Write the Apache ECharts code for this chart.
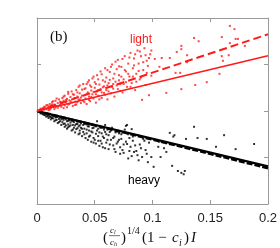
<!DOCTYPE html>
<html><head><meta charset="utf-8">
<script src="https://cdn.jsdelivr.net/npm/echarts@6/dist/echarts.min.js"></script>
<style>html,body{margin:0;padding:0;background:#fff}#c{width:280px;height:248px}</style>
</head><body><div id="c"></div>
<script>
var xTicks = [0, 0.05, 0.1, 0.15, 0.2];
var lineX = [0, 0.2];
var lightFit = [0, 1.19];
var lightDashed = [0, 1.65];
var heavyFit = [0, -1.19];
var heavyDashed = [0, -1.23];

var lightPoints = [
[0.002,0.02],[0.003,0.05],[0.004,0.01],[0.005,0.06],[0.006,0.03],[0.007,0.08],[0.008,0.04],[0.008,0.12],[0.009,0.07],[0.010,0.02],[0.010,0.10],[0.011,0.15],[0.012,0.06],[0.012,0.11],[0.013,0.19],[0.014,0.09],[0.015,0.04],[0.015,0.14],[0.016,0.22],[0.017,0.11],[0.018,0.17],[0.018,0.07],[0.019,0.25],[0.020,0.13],[0.020,0.20],
[0.021,0.09],[0.022,0.28],[0.022,0.16],[0.023,0.22],[0.024,0.12],[0.024,0.33],[0.025,0.19],[0.026,0.26],[0.026,0.08],[0.027,0.37],[0.028,0.15],[0.028,0.23],[0.029,0.30],[0.030,0.18],[0.030,0.42],[0.031,0.11],[0.032,0.27],[0.032,0.35],[0.033,0.20],[0.034,0.45],[0.034,0.14],[0.035,0.31],[0.036,0.24],[0.036,0.52],[0.037,0.38],[0.038,0.17],[0.038,0.29],[0.039,0.46],[0.040,0.22],[0.040,0.58],
[0.041,0.34],[0.042,0.27],[0.042,0.49],[0.043,0.15],[0.044,0.40],[0.044,0.62],[0.045,0.31],[0.046,0.55],[0.046,0.21],[0.047,0.44],[0.048,0.36],[0.048,0.70],[0.049,0.27],[0.050,0.50],[0.050,0.62],[0.051,0.18],[0.052,0.42],[0.052,0.77],[0.053,0.33],[0.054,0.57],[0.055,0.47],[0.055,0.85],[0.056,0.28],[0.057,0.66],[0.058,0.39],[0.058,0.53],[0.059,0.92],[0.060,0.45],[0.060,0.72],
[0.061,0.25],[0.062,0.60],[0.063,0.84],[0.064,0.38],[0.065,0.52],[0.065,1.00],[0.066,0.70],[0.067,0.31],[0.068,0.63],[0.069,0.90],[0.070,0.47],[0.070,1.10],[0.071,0.77],[0.072,0.58],[0.073,0.95],[0.074,0.40],[0.075,0.68],[0.076,1.18],[0.077,0.85],[0.078,0.52],[0.079,1.02],[0.080,0.74],
[0.081,1.25],[0.082,0.60],[0.083,0.92],[0.084,1.13],[0.085,0.45],[0.086,0.80],[0.087,1.30],[0.088,1.02],[0.089,0.68],[0.090,1.18],[0.091,0.24],[0.092,0.88],[0.093,1.35],[0.094,0.56],[0.095,1.08],[0.096,0.97],[0.097,0.34],[0.098,1.22],[0.099,0.76],
[0.102,1.12],[0.106,0.95],[0.108,1.14],[0.112,0.39],[0.115,1.14],[0.120,0.82],[0.121,1.27],[0.124,0.82],[0.125,1.40],[0.125,1.33],[0.125,0.47],[0.130,1.20],[0.130,1.05],[0.136,1.57],[0.137,0.56],[0.140,1.50],[0.147,0.62],[0.158,0.80],[0.160,1.59],[0.160,1.18],[0.161,1.08],[0.166,1.20],[0.167,1.83],[0.167,1.46],[0.171,1.76],[0.172,1.55],[0.174,1.55],[0.180,1.40],
[0.004,0.04],[0.006,0.09],[0.009,0.13],[0.011,0.03],[0.013,0.14],[0.014,0.21],[0.016,0.08],[0.017,0.27],[0.019,0.11],[0.021,0.19],[0.023,0.31],[0.023,0.06],[0.025,0.24],[0.027,0.14],[0.027,0.41],[0.029,0.21],[0.031,0.36],[0.033,0.28],[0.033,0.13],[0.035,0.40],[0.035,0.19],[0.037,0.25],[0.037,0.55],[0.039,0.33],[0.041,0.47],[0.041,0.19],[0.043,0.37],[0.043,0.58],[0.045,0.24],[0.045,0.66],[0.047,0.30],[0.047,0.52],[0.049,0.41],[0.049,0.74],[0.051,0.36],[0.051,0.58],[0.053,0.45],[0.053,0.68],[0.054,0.25],[0.056,0.40],[0.056,0.79],[0.057,0.51],[0.059,0.63],[0.059,0.35],[0.061,0.55],[0.061,0.88],[0.062,0.42],[0.063,0.67],[0.064,0.95],[0.066,0.48],[0.066,0.58],[0.067,0.80],[0.068,1.06],[0.069,0.55],[0.071,0.66],[0.071,0.96],[0.072,0.43],[0.073,0.74],[0.074,1.12],[0.075,0.58],[0.076,0.88],[0.077,0.62],[0.079,0.80],[0.080,1.15],[0.081,0.52],[0.083,0.74],[0.084,0.98],[0.085,1.22],[0.086,0.63],[0.088,0.86],[0.089,1.28],[0.090,0.72],[0.092,1.05],[0.094,1.20],[0.095,0.82],[0.097,1.14],[0.099,1.30]
];

var heavyPoints = [
[0.002,-0.02],[0.003,-0.05],[0.004,-0.02],[0.005,-0.07],[0.006,-0.04],[0.007,-0.09],[0.008,-0.05],[0.008,-0.12],[0.009,-0.07],[0.010,-0.10],[0.010,-0.15],[0.011,-0.06],[0.012,-0.13],[0.012,-0.18],[0.013,-0.09],[0.014,-0.16],[0.015,-0.11],[0.015,-0.22],[0.016,-0.14],[0.017,-0.19],[0.018,-0.12],[0.018,-0.26],[0.019,-0.17],[0.020,-0.14],[0.020,-0.22],
[0.021,-0.30],[0.022,-0.16],[0.022,-0.24],[0.023,-0.19],[0.024,-0.34],[0.024,-0.27],[0.025,-0.18],[0.026,-0.22],[0.026,-0.38],[0.027,-0.29],[0.028,-0.20],[0.028,-0.33],[0.029,-0.25],[0.030,-0.42],[0.030,-0.21],[0.031,-0.30],[0.032,-0.36],[0.032,-0.24],[0.033,-0.46],[0.034,-0.28],[0.034,-0.39],[0.035,-0.23],[0.036,-0.33],[0.036,-0.50],[0.037,-0.42],[0.038,-0.27],[0.038,-0.36],[0.039,-0.54],[0.040,-0.30],[0.040,-0.45],
[0.041,-0.38],[0.042,-0.58],[0.042,-0.27],[0.043,-0.48],[0.044,-0.33],[0.044,-0.62],[0.045,-0.42],[0.046,-0.28],[0.046,-0.53],[0.047,-0.66],[0.048,-0.37],[0.048,-0.46],[0.049,-0.58],[0.050,-0.31],[0.050,-0.62],[0.051,-0.70],[0.052,-0.42],[0.052,-0.22],[0.053,-0.54],[0.054,-0.75],[0.055,-0.36],[0.055,-0.64],[0.056,-0.48],[0.057,-0.78],[0.058,-0.40],[0.058,-0.58],[0.059,-0.30],[0.060,-0.68],[0.060,-0.50],
[0.062,-0.82],[0.063,-0.45],[0.064,-0.62],[0.065,-0.36],[0.066,-0.74],[0.067,-0.55],[0.068,-0.88],[0.069,-0.44],[0.070,-0.66],[0.071,-0.62],[0.072,-0.92],[0.073,-0.50],[0.074,-0.84],[0.075,-0.72],[0.076,-0.40],[0.077,-0.32],[0.078,-0.71],[0.078,-0.30],[0.079,-1.02],[0.080,-0.58],[0.081,-0.77],[0.082,-0.39],[0.082,-0.97],[0.083,-0.64],[0.084,-0.88],[0.086,-0.86],[0.087,-0.52],[0.088,-1.06],[0.089,-0.72],[0.091,-0.99],[0.092,-0.60],[0.094,-0.84],[0.096,-1.10],[0.097,-0.68],[0.099,-0.99],
[0.101,-1.20],[0.105,-0.77],[0.106,-0.66],[0.107,-0.99],[0.110,-0.80],[0.112,-0.88],[0.115,-0.47],[0.117,-1.18],[0.118,-0.55],[0.119,-0.52],[0.122,-1.29],[0.125,-1.33],[0.127,-1.36],[0.128,-1.29],[0.129,-0.60],[0.136,-0.34],[0.139,-0.58],[0.147,-0.60],[0.155,-0.77],[0.162,-0.52],[0.172,-0.82],[0.188,-0.71],
[0.004,-0.05],[0.006,-0.08],[0.009,-0.11],[0.011,-0.12],[0.013,-0.15],[0.014,-0.11],[0.016,-0.20],[0.017,-0.13],[0.019,-0.24],[0.021,-0.18],[0.023,-0.28],[0.023,-0.15],[0.025,-0.31],[0.027,-0.21],[0.027,-0.35],[0.029,-0.31],[0.031,-0.22],[0.031,-0.40],[0.033,-0.31],[0.035,-0.37],[0.035,-0.28],[0.037,-0.31],[0.037,-0.48],[0.039,-0.38],[0.041,-0.28],[0.041,-0.50],[0.043,-0.40],[0.043,-0.29],[0.045,-0.55],[0.045,-0.33],[0.047,-0.44],[0.047,-0.30],[0.049,-0.36],[0.049,-0.68],[0.051,-0.49],[0.051,-0.33],[0.053,-0.38],[0.053,-0.64],[0.054,-0.46],[0.056,-0.36],[0.056,-0.70],[0.057,-0.55],[0.059,-0.45],[0.059,-0.80],[0.061,-0.40],[0.061,-0.62],[0.062,-0.52],[0.063,-0.72],[0.064,-0.42],[0.066,-0.58],[0.067,-0.82],[0.068,-0.46],[0.069,-0.70],[0.071,-0.48],[0.072,-0.78],[0.073,-0.60],[0.074,-0.46],[0.075,-0.90],[0.077,-0.66],[0.079,-0.50],[0.080,-0.86],[0.083,-0.55],[0.085,-0.74],[0.087,-0.95],[0.090,-0.80],[0.093,-0.64],[0.095,-0.92]
];

function pairs(xs, ys){ return xs.map(function(x,i){return [x, ys[i]];}); }

var chart = echarts.init(document.getElementById('c'), null, {renderer:'canvas'});
var frame = '#9a9a9a';
var serif = '"Liberation Serif","DejaVu Serif",serif';
var sans = '"Liberation Sans","DejaVu Sans",sans-serif';
function axisCommon(){
  return {
    axisLine:{show:true, onZero:false, lineStyle:{color:frame, width:1}},
    axisTick:{show:true, inside:true, length:4, lineStyle:{color:frame}},
    splitLine:{show:false}
  };
}
var xBottom = Object.assign(axisCommon(), {type:'value', min:0, max:0.2, interval:0.05, position:'bottom',
  axisLabel:{show:true, color:'#222', fontSize:13, fontFamily:sans, margin:8,
    formatter:function(v){ var i = xTicks.indexOf(+v.toFixed(2)); return i>=0 ? String(xTicks[i]) : ''; }}});
var xTop = Object.assign(axisCommon(), {type:'value', min:0, max:0.2, interval:0.05, position:'top', axisLabel:{show:false}});
var yLeft = Object.assign(axisCommon(), {type:'value', min:-2, max:2, interval:1, position:'left', axisLabel:{show:false}});
var yRight = Object.assign(axisCommon(), {type:'value', min:-2, max:2, interval:1, position:'right', axisLabel:{show:false}});

chart.setOption({
  animation:false,
  grid:{left:37, right:10, top:18, bottom:44},
  xAxis:[xBottom, xTop],
  yAxis:[yLeft, yRight],
  series:[
    {type:'scatter', data:lightPoints, symbol:'rect', symbolSize:2, itemStyle:{color:'#ff1a1a'}, z:2},
    {type:'scatter', data:heavyPoints, symbol:'rect', symbolSize:2, itemStyle:{color:'#000'}, z:2},
    {type:'line', data:pairs(lineX, heavyDashed), showSymbol:false, lineStyle:{color:'#000', width:2.5, type:[6,2]}, z:3},
    {type:'line', data:pairs(lineX, heavyFit), showSymbol:false, lineStyle:{color:'#000', width:2.2}, z:4},
    {type:'line', data:pairs(lineX, lightFit), showSymbol:false, lineStyle:{color:'#ff1a1a', width:1.6}, z:4},
    {type:'line', data:pairs(lineX, lightDashed), showSymbol:false, lineStyle:{color:'#ff1a1a', width:2, type:[8,4]}, z:4}
  ],
  graphic:[
    {type:'text', left:50, top:30, style:{text:'(b)', font:'15px '+serif, fill:'#111'}},
    {type:'text', left:130, top:34, style:{text:'light', font:'12px '+sans, fill:'#ff1a1a'}},
    {type:'text', left:128, top:175, style:{text:'heavy', font:'12px '+sans, fill:'#000'}},
    {type:'group', left:103, top:226, children:[
      {type:'text', x:0, y:5, style:{text:'(', font:'15px '+serif, fill:'#111'}},
      {type:'text', x:7, y:0, style:{text:'{v|c}{s|l}', rich:{v:{font:'italic 9px '+serif, fill:'#111'}, s:{font:'italic 6px '+serif, fill:'#111', padding:[4,0,0,0]}}}},
      {type:'rect', shape:{x:6, y:10, width:11, height:0.6}, style:{fill:'#111'}},
      {type:'text', x:7, y:12, style:{text:'{v|c}{s|h}', rich:{v:{font:'italic 9px '+serif, fill:'#111'}, s:{font:'italic 6px '+serif, fill:'#111', padding:[4,0,0,0]}}}},
      {type:'text', x:18, y:5, style:{text:')', font:'15px '+serif, fill:'#111'}},
      {type:'text', x:24, y:1, style:{text:'1/4', font:'10px '+serif, fill:'#111'}},
      {type:'text', x:39, y:5, style:{text:'(1 −', font:'15px '+serif, fill:'#111'}},
      {type:'text', x:69, y:5, style:{text:'c', font:'italic 15px '+serif, fill:'#111'}},
      {type:'text', x:76, y:13, style:{text:'i', font:'italic 10px '+serif, fill:'#111'}},
      {type:'text', x:81, y:5, style:{text:')', font:'15px '+serif, fill:'#111'}},
      {type:'text', x:88, y:5, style:{text:'I', font:'italic 15px '+serif, fill:'#111'}}
    ]}
  ]
});
</script></body></html>
